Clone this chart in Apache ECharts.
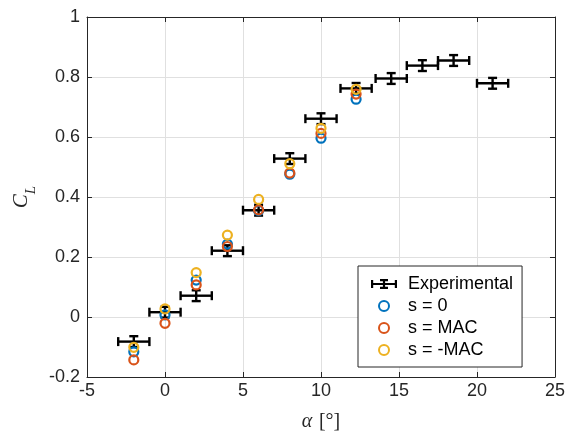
<!DOCTYPE html>
<html>
<head>
<meta charset="utf-8">
<script src="https://cdn.jsdelivr.net/npm/echarts@6/dist/echarts.min.js"></script>
<style>
  html, body { margin: 0; padding: 0; background: #fff; }
  #cl_chart { width: 568px; height: 439px; }
</style>
</head>
<body>
<div id="cl_chart"></div>
<script>
// experimental points with error bars
const alphaExp = [-2, 0, 2, 4, 6, 8, 10, 12.25, 14.5, 16.5, 18.5, 21]
const clExp = [-0.082, 0.016, 0.071, 0.221, 0.356, 0.528, 0.661, 0.762, 0.795, 0.838, 0.855, 0.779]
const alphaErr = [1, 1, 1, 1, 1, 1, 1, 1, 1, 1, 1, 1]
const clErr = [0.018, 0.018, 0.018, 0.018, 0.018, 0.018, 0.018, 0.018, 0.018, 0.018, 0.018, 0.018]

// simulations
const alphaSim = [-2, 0, 2, 4, 6, 8, 10, 12.25]
const clS0 = [-0.116, 0.007, 0.123, 0.243, 0.355, 0.476, 0.596, 0.726]
const clSMac = [-0.143, -0.021, 0.107, 0.235, 0.357, 0.48, 0.612, 0.743]
const clSNegMac = [-0.101, 0.027, 0.148, 0.273, 0.392, 0.511, 0.629, 0.759]

const xTicks = [-5, 0, 5, 10, 15, 20, 25]
const yTicks = [-0.2, 0, 0.2, 0.4, 0.6, 0.8, 1]

const axisColor = '#262626'
const font = 'Liberation Sans, Arial, Helvetica, sans-serif'
const serif = 'Liberation Serif, Times New Roman, serif'

const errIcon = 'path://M0,3.9H26V6.1H0Z M0,1H2.2V9H0Z M23.8,1H26V9H23.8Z M11.9,0H14.1V10H11.9Z M9,0H17V2.2H9Z M9,7.8H17V10H9Z'

function pairs(xs, ys) {
  return xs.map((x, i) => [x, ys[i]])
}

function simSeries(name, ys, color) {
  return {
    name: name,
    type: 'scatter',
    data: pairs(alphaSim, ys),
    symbol: 'circle',
    symbolSize: 9,
    itemStyle: { color: 'transparent', borderColor: color, borderWidth: 2.2, opacity: 1 },
    emphasis: { disabled: true },
    z: 3
  }
}

function renderErrorBar(params, api) {
  const x = api.value(0)
  const y = api.value(1)
  const ex = api.value(2)
  const ey = api.value(3)
  const l = api.coord([x - ex, y])
  const r = api.coord([x + ex, y])
  const t = api.coord([x, y + ey])
  const b = api.coord([x, y - ey])
  const cap = 4.5
  const style = { stroke: '#000', lineWidth: 2.4, fill: null }
  const seg = (x1, y1, x2, y2) => ({
    type: 'line', shape: { x1: x1, y1: y1, x2: x2, y2: y2 }, style: style
  })
  return {
    type: 'group',
    children: [
      seg(l[0], l[1], r[0], r[1]),
      seg(l[0], l[1] - cap, l[0], l[1] + cap),
      seg(r[0], r[1] - cap, r[0], r[1] + cap),
      seg(t[0], t[1], b[0], b[1]),
      seg(t[0] - cap, t[1], t[0] + cap, t[1]),
      seg(b[0] - cap, b[1], b[0] + cap, b[1])
    ]
  }
}

const chart = echarts.init(document.getElementById('cl_chart'))

const baseX = {
  type: 'value',
  min: xTicks[0],
  max: xTicks[xTicks.length - 1],
  interval: 5,
  axisLine: { onZero: false, lineStyle: { color: axisColor, width: 1 } },
  axisTick: { inside: true, length: 5, lineStyle: { color: axisColor } }
}
const baseY = {
  type: 'value',
  min: yTicks[0],
  max: yTicks[yTicks.length - 1],
  interval: 0.2,
  axisLine: { onZero: false, lineStyle: { color: axisColor, width: 1 } },
  axisTick: { inside: true, length: 5, lineStyle: { color: axisColor } }
}

chart.setOption({
  animation: false,
  backgroundColor: '#fff',
  grid: { left: 87, top: 17, width: 470, height: 360 },
  xAxis: [
    Object.assign({}, baseX, {
      position: 'bottom',
      name: '{a|α}  {b|[°]}',
      nameLocation: 'middle',
      nameGap: 35,
      nameTextStyle: {
        rich: {
          a: { fontFamily: serif, fontStyle: 'italic', fontSize: 20, color: axisColor },
          b: { fontFamily: serif, fontSize: 20, color: axisColor }
        }
      },
      axisLabel: {
        margin: 5,
        fontFamily: font,
        fontSize: 18,
        color: axisColor,
        formatter: v => String(v)
      },
      splitLine: { show: true, lineStyle: { color: '#e0e0e0', width: 1 } }
    }),
    Object.assign({}, baseX, {
      position: 'top',
      axisLabel: { show: false },
      splitLine: { show: false }
    })
  ],
  yAxis: [
    Object.assign({}, baseY, {
      position: 'left',
      name: '{a|C}{b|L}',
      nameLocation: 'middle',
      nameGap: 52,
      nameTextStyle: {
        rich: {
          a: { fontFamily: serif, fontStyle: 'italic', fontSize: 21, color: axisColor, lineHeight: 26 },
          b: { fontFamily: serif, fontStyle: 'italic', fontSize: 15, color: axisColor, lineHeight: 26, verticalAlign: 'bottom', padding: [0, 0, -4, 0] }
        }
      },
      axisLabel: {
        margin: 7,
        fontFamily: font,
        fontSize: 18,
        color: axisColor,
        formatter: v => String(+v.toFixed(1))
      },
      splitLine: { show: true, lineStyle: { color: '#e0e0e0', width: 1 } }
    }),
    Object.assign({}, baseY, {
      position: 'right',
      axisLabel: { show: false },
      splitLine: { show: false }
    })
  ],
  legend: {
    orient: 'vertical',
    left: 358,
    top: 266,
    padding: [9, 9, 8, 13],
    itemWidth: 26,
    itemHeight: 10,
    itemGap: 4,
    backgroundColor: '#fff',
    borderColor: axisColor,
    borderWidth: 1,
    borderRadius: 0,
    textStyle: { fontFamily: font, fontSize: 18, color: '#000', padding: [0, 0, 0, 6] },
    selectedMode: false,
    data: [
      { name: 'Experimental', icon: errIcon, itemStyle: { color: '#000', borderWidth: 0 } },
      { name: 's = 0', icon: 'circle' },
      { name: 's = MAC', icon: 'circle' },
      { name: 's = -MAC', icon: 'circle' }
    ]
  },
  series: [
    {
      name: 'Experimental',
      type: 'custom',
      renderItem: renderErrorBar,
      data: alphaExp.map((a, i) => [a, clExp[i], alphaErr[i], clErr[i]]),
      encode: { x: 0, y: 1 },
      itemStyle: { color: '#000' },
      z: 2
    },
    simSeries('s = 0', clS0, '#0072BD'),
    simSeries('s = MAC', clSMac, '#D95319'),
    simSeries('s = -MAC', clSNegMac, '#EDB120')
  ]
})
</script>
</body>
</html>
